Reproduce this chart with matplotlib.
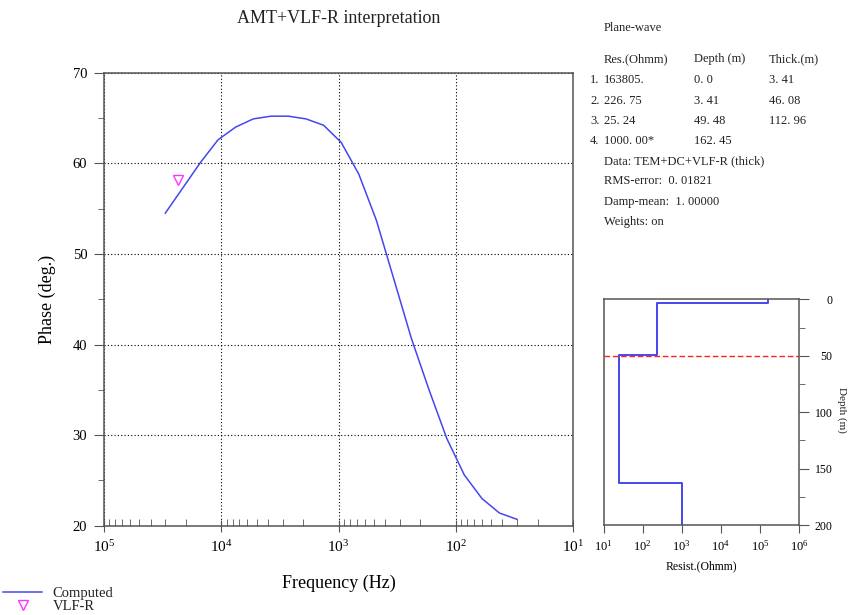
import matplotlib
matplotlib.use("Agg")
import matplotlib.pyplot as plt
from matplotlib.ticker import LogLocator, NullFormatter, NullLocator, MultipleLocator

# ---- data ----
freq = [30000, 21230, 15030, 10640, 7530, 5333, 3776, 2673, 1892, 1340, 948,
        671, 475, 337, 238, 169, 119, 84.5, 59.8, 42.4, 30.0]
phase = [54.5, 57.3, 60.1, 62.6, 64.0, 64.9, 65.2, 65.2, 64.9, 64.2, 62.3,
         58.8, 53.7, 47.2, 40.6, 35.0, 29.6, 25.6, 23.0, 21.4, 20.7]
vlf_freq = [23400]
vlf_phase = [58.2]

layer_res = [163805.0, 226.75, 25.24, 1000.0]
layer_top = [0.0, 3.41, 49.48, 162.45]
max_depth = 200.0
doi_depth = 50.5

header = ["Res.(Ohmm)", "Depth (m)", "Thick.(m)"]
row_idx = ["1.", "2.", "3.", "4."]
row_res = ["163805.", "226. 75", "25. 24", "1000. 00*"]
row_depth = ["0. 0", "3. 41", "49. 48", "162. 45"]
row_thick = ["3. 41", "46. 08", "112. 96", ""]
info = ["Data: TEM+DC+VLF-R (thick)", "RMS-error:  0. 01821",
        "Damp-mean:  1. 00000", "Weights: on"]

SERIF = "Liberation Serif"
plt.rcParams["font.family"] = SERIF
plt.rcParams["mathtext.fontset"] = "custom"
plt.rcParams["mathtext.rm"] = SERIF
plt.rcParams["mathtext.it"] = SERIF
plt.rcParams["text.color"] = "#222222"
SPINE = "#555555"
LINE = "#4646f0"

W, H = 850, 615
fig = plt.figure(figsize=(W / 100, H / 100), dpi=100)


def fx(px):
    return px / W


def fy(py):
    return 1 - py / H


# ---- main phase plot ----
ax = fig.add_axes([fx(104), fy(525.7), fx(573 - 104), (525.7 - 72.7) / H])
comp, = ax.plot(freq, phase, color=LINE, lw=1.1, label="Computed")
vlf, = ax.plot(vlf_freq, vlf_phase, ls="none", marker="v", mfc="none",
               mec="#ff33ff", ms=7, mew=1.0, label="VLF-R")
ax.set_xscale("log")
ax.set_xlim(1e5, 1e1)
ax.set_ylim(20, 70)
ax.xaxis.set_major_locator(LogLocator(base=10, numticks=10))
ax.xaxis.set_minor_locator(LogLocator(base=10, subs=range(2, 10), numticks=20))
ax.xaxis.set_minor_formatter(NullFormatter())
ax.yaxis.set_major_locator(MultipleLocator(10))
ax.yaxis.set_minor_locator(MultipleLocator(5))
ax.grid(True, which="major", color="black", ls=(0, (1, 2)), lw=0.8)
for s in ax.spines.values():
    s.set_color(SPINE)
    s.set_linewidth(1.1)
ax.tick_params(axis="x", which="major", direction="inout", length=8,
               color=SPINE, labelsize=11, pad=6, top=False)
ax.tick_params(axis="x", which="minor", direction="in", length=5, color=SPINE, top=False)
ax.tick_params(axis="y", which="major", direction="out", length=7,
               color=SPINE, labelsize=10.5, pad=5, right=False)
ax.tick_params(axis="y", which="minor", direction="out", length=4, color=SPINE, right=False)
ax.set_xlabel("Frequency (Hz)", fontsize=13, labelpad=14)
ax.set_ylabel("Phase (deg.)", fontsize=13, labelpad=12)
ax.set_title("AMT+VLF-R interpretation", fontsize=13, pad=36)

fig.legend(handles=[comp, vlf], loc="upper left",
           bbox_to_anchor=(fx(3), fy(587)), frameon=False, fontsize=10.5,
           borderpad=0, borderaxespad=0, handlelength=2.7, handletextpad=0.7,
           labelspacing=0.0)

# ---- model table ----
tsize = 9
fig.text(fx(604), fy(28), "Plane-wave", fontsize=tsize, va="center")
for x, h in zip([604, 694, 769], header):
    fig.text(fx(x), fy(59), h, fontsize=tsize, va="center")
for i in range(len(row_idx)):
    y = fy(80 + 20.5 * i)
    fig.text(fx(590), y, row_idx[i], fontsize=tsize, va="center")
    fig.text(fx(604), y, row_res[i], fontsize=tsize, va="center")
    fig.text(fx(694), y, row_depth[i], fontsize=tsize, va="center")
    fig.text(fx(769), y, row_thick[i], fontsize=tsize, va="center")
for i, t in enumerate(info):
    fig.text(fx(604), fy(161 + 20.5 * i), t, fontsize=tsize, va="center")

# ---- layered model inset ----
ax2 = fig.add_axes([fx(603.5), fy(525), fx(799 - 603.5), (525 - 299.3) / H])
xs, ys = [], []
bottoms = layer_top[1:] + [max_depth]
for r, t, b in zip(layer_res, layer_top, bottoms):
    xs += [r, r]
    ys += [t, b]
ax2.plot(xs, ys, color=LINE, lw=1.4)
ax2.axhline(doi_depth, color="#ff2020", ls=(0, (4, 2)), lw=1.0)
ax2.set_xscale("log")
ax2.set_xlim(1e1, 1e6)
ax2.set_ylim(max_depth, 0)
ax2.xaxis.set_major_locator(LogLocator(base=10, numticks=10))
ax2.xaxis.set_minor_locator(NullLocator())
ax2.yaxis.set_major_locator(MultipleLocator(50))
ax2.yaxis.set_minor_locator(MultipleLocator(25))
ax2.yaxis.tick_right()
for s in ax2.spines.values():
    s.set_color(SPINE)
    s.set_linewidth(1.1)
ax2.tick_params(axis="x", which="major", direction="out", length=6,
                color=SPINE, labelsize=9, pad=4)
ax2.tick_params(axis="y", which="major", direction="out", length=7,
                color=SPINE, labelsize=8.5, pad=17)
ax2.tick_params(axis="y", which="minor", direction="out", length=4, color=SPINE)
for lab in ax2.get_yticklabels():
    lab.set_horizontalalignment("right")
ax2.set_xlabel("Resist.(Ohmm)", fontsize=8.5, labelpad=5)
fig.text(fx(842), fy(410), "Depth (m)", fontsize=8, rotation=270,
         ha="center", va="center")

fig.savefig("out.png", dpi=100)
